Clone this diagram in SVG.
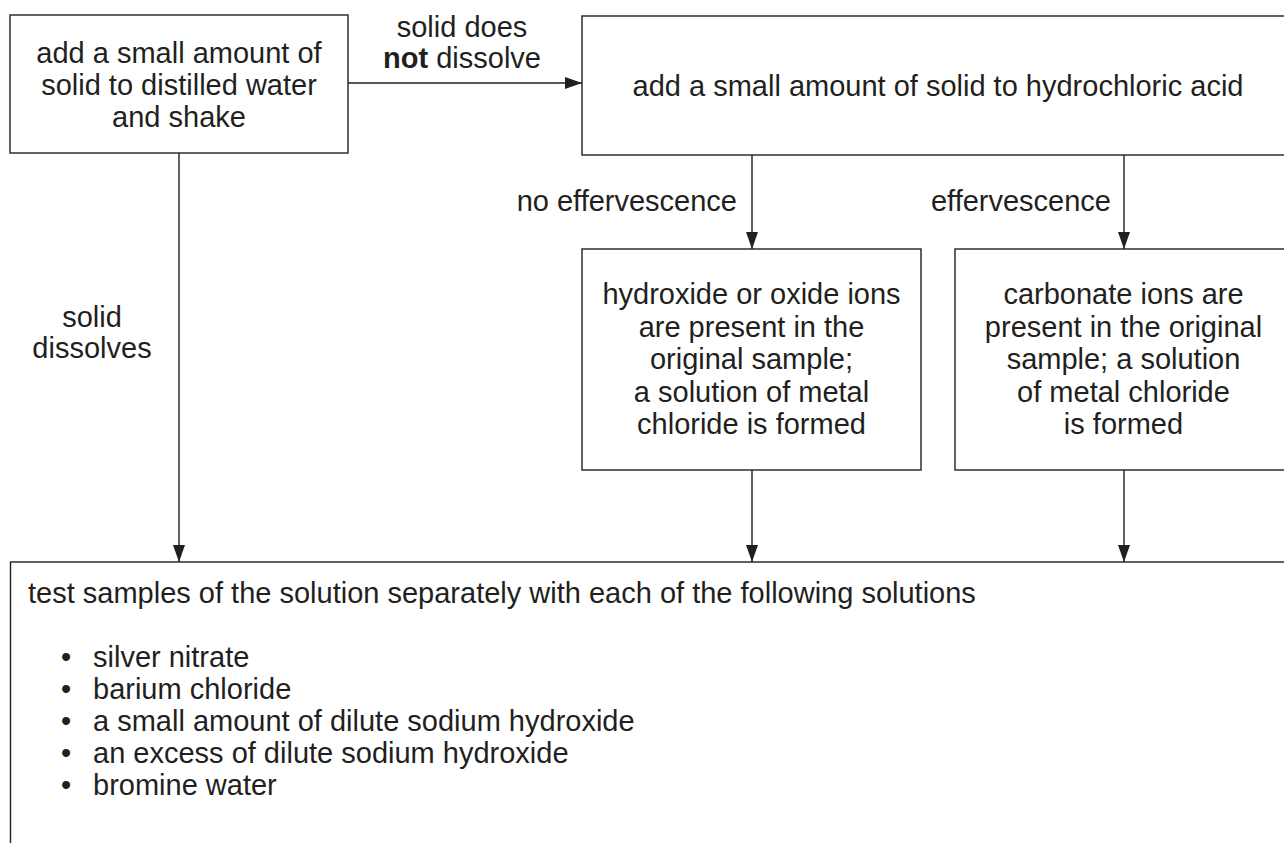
<svg xmlns="http://www.w3.org/2000/svg" width="1284" height="843" viewBox="0 0 1284 843">
<style>
  .box { fill: #ffffff; stroke: #231f20; stroke-width: 1.4; }
  .conn { fill: none; stroke: #231f20; stroke-width: 1.4; }
  text { font-family: "Liberation Sans", Arial, Helvetica, sans-serif; font-size: 29px; fill: #231f20; }
  .c { text-anchor: middle; }
  .e { text-anchor: end; }
  .b { font-weight: bold; }
</style>
<defs>
  <marker id="arr" markerUnits="userSpaceOnUse" markerWidth="18" markerHeight="12" refX="17" refY="6" orient="auto">
    <path d="M0,0 L17,6 L0,12 Z" fill="#231f20"/>
  </marker>
</defs>
<rect width="1284" height="843" fill="#ffffff"/>

<g id="connectors">
  <line class="conn" x1="348" y1="83" x2="582" y2="83" marker-end="url(#arr)"/>
  <line class="conn" x1="179" y1="153" x2="179" y2="562" marker-end="url(#arr)"/>
  <line class="conn" x1="752" y1="155" x2="752" y2="249" marker-end="url(#arr)"/>
  <line class="conn" x1="1124" y1="155" x2="1124" y2="249" marker-end="url(#arr)"/>
  <line class="conn" x1="752" y1="470" x2="752" y2="562" marker-end="url(#arr)"/>
  <line class="conn" x1="1124" y1="470" x2="1124" y2="562" marker-end="url(#arr)"/>
  <text class="c" x="462" y="37">solid does</text>
  <text class="c" x="462" y="68"><tspan class="b">not</tspan> dissolve</text>
  <text class="e" x="737" y="211">no effervescence</text>
  <text class="e" x="1111" y="211">effervescence</text>
  <text class="c" x="92" y="327">solid</text>
  <text class="c" x="92" y="358">dissolves</text>
</g>

<g id="node-water">
  <rect class="box" x="10" y="15" width="338" height="138"/>
  <text class="c" x="179" y="63">add a small amount of</text>
  <text class="c" x="179" y="95">solid to distilled water</text>
  <text class="c" x="179" y="127">and shake</text>
</g>

<g id="node-acid">
  <rect class="box" x="582" y="16" width="712" height="139"/>
  <text class="c" x="938" y="96">add a small amount of solid to hydrochloric acid</text>
</g>

<g id="node-hydroxide">
  <rect class="box" x="582" y="249" width="339" height="221"/>
  <text class="c" x="751.5" y="304">hydroxide or oxide ions</text>
  <text class="c" x="751.5" y="336.5">are present in the</text>
  <text class="c" x="751.5" y="369">original sample;</text>
  <text class="c" x="751.5" y="401.5">a solution of metal</text>
  <text class="c" x="751.5" y="434">chloride is formed</text>
</g>

<g id="node-carbonate">
  <rect class="box" x="955" y="249" width="338" height="221"/>
  <text class="c" x="1123.5" y="304">carbonate ions are</text>
  <text class="c" x="1123.5" y="336.5">present in the original</text>
  <text class="c" x="1123.5" y="369">sample; a solution</text>
  <text class="c" x="1123.5" y="401.5">of metal chloride</text>
  <text class="c" x="1123.5" y="434">is formed</text>
</g>

<g id="node-test">
  <rect class="box" x="10.5" y="562" width="1290" height="300"/>
  <text x="28" y="603">test samples of the solution separately with each of the following solutions</text>
  <text x="61" y="667">•</text><text x="93" y="667">silver nitrate</text>
  <text x="61" y="699">•</text><text x="93" y="699">barium chloride</text>
  <text x="61" y="731">•</text><text x="93" y="731">a small amount of dilute sodium hydroxide</text>
  <text x="61" y="763">•</text><text x="93" y="763">an excess of dilute sodium hydroxide</text>
  <text x="61" y="795">•</text><text x="93" y="795">bromine water</text>
</g>
</svg>
